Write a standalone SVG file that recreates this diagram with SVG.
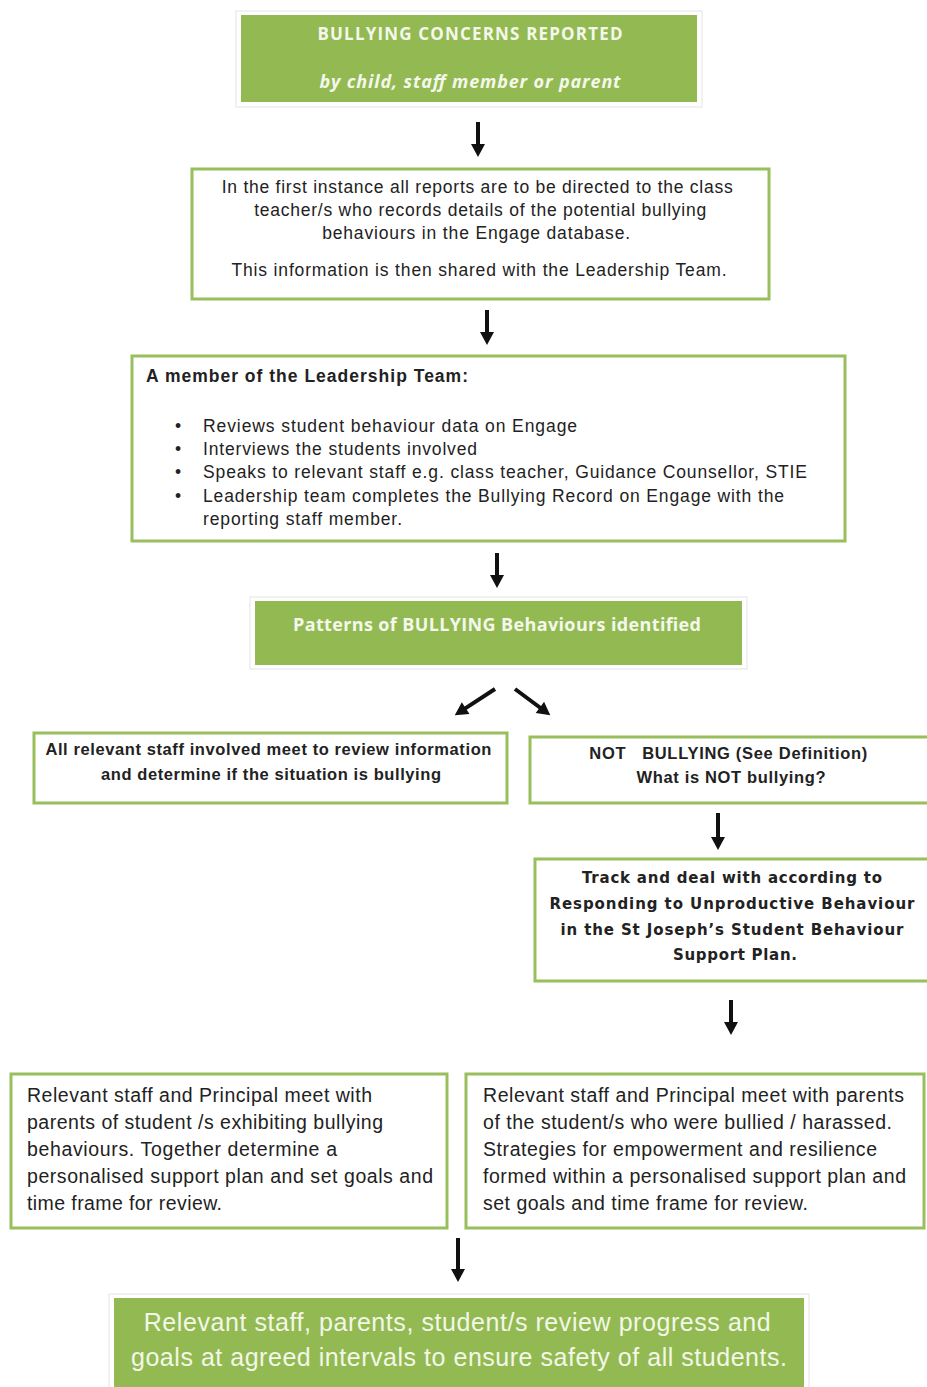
<svg xmlns="http://www.w3.org/2000/svg" width="927" height="1387" viewBox="0 0 927 1387">
<defs>
<style>
.gbox{fill:#93ba52;}
.frame{fill:#ffffff;stroke:#e3e3e3;stroke-width:1;}
.wbox{fill:#ffffff;stroke:#98bf5c;stroke-width:3;}
.t{font-family:"Liberation Sans",Arial,sans-serif;fill:#222;}
.tw{font-family:"Open Sans","Liberation Sans",sans-serif;fill:#f4f8ec;font-weight:bold;}
.arr{fill:#111;}
</style>
</defs>
<rect width="927" height="1387" fill="#ffffff"/>

<g id="connectors" class="arr">
<path d="M476,122 H480 V144 H485 L478,157 L471,144 H476 Z"/>
<path d="M485,310 H489 V332 H494 L487,345 L480,332 H485 Z"/>
<path d="M495,553 H499 V575 H504 L497,588 L490,575 H495 Z"/>
<path d="M716,813 H720 V837 H725 L718,850 L711,837 H716 Z"/>
<path d="M729,1000 H733 V1022 H738 L731,1035 L724,1022 H729 Z"/>
<path d="M456,1238 H460 V1269 H465 L458,1282 L451,1269 H456 Z"/>
<path transform="translate(495,689) rotate(57)" d="M-2,0 H2 V35 H7 L0,48 L-7,35 H-2 Z"/>
<path transform="translate(515,689) rotate(-53.4)" d="M-2,0 H2 V31 H7 L0,44 L-7,31 H-2 Z"/>
</g>

<g id="n1">
<rect class="frame" x="236" y="11" width="466" height="96"/>
<rect class="gbox" x="241" y="15" width="456" height="87"/>
<text class="tw" x="470" y="40" text-anchor="middle" font-size="17" textLength="305">BULLYING CONCERNS REPORTED</text>
<text class="tw" x="470" y="88" text-anchor="middle" font-size="18" font-style="italic" textLength="301">by child, staff member or parent</text>
</g>

<g id="n2">
<rect class="wbox" x="192" y="169" width="577" height="130"/>
<text class="t" font-size="17.5" text-anchor="middle">
<tspan x="480" y="193" textLength="511">In the first instance all reports are to be directed to the class</tspan>
<tspan x="483" y="216" textLength="452">teacher/s who records details of the potential bullying</tspan>
<tspan x="479" y="239" textLength="308">behaviours in the Engage database.</tspan>
<tspan x="479" y="276" textLength="495">This information is then shared with the Leadership Team.</tspan>
</text>
</g>

<g id="n3">
<rect class="wbox" x="132" y="356" width="713" height="185"/>
<text class="t" x="146" y="382" font-size="17.5" font-weight="bold" textLength="322">A member of the Leadership Team:</text>
<g class="t" font-size="17.5">
<text x="175" y="432">•</text>
<text x="175" y="455">•</text>
<text x="175" y="478">•</text>
<text x="175" y="502">•</text>
<text x="203" y="432" textLength="374">Reviews student behaviour data on Engage</text>
<text x="203" y="455" textLength="274">Interviews the students involved</text>
<text x="203" y="478" textLength="604">Speaks to relevant staff e.g. class teacher, Guidance Counsellor, STIE</text>
<text x="203" y="502" textLength="581">Leadership team completes the Bullying Record on Engage with the</text>
<text x="203" y="525" textLength="199">reporting staff member.</text>
</g>
</g>

<g id="n4">
<rect class="frame" x="250" y="597" width="497" height="72"/>
<rect class="gbox" x="255" y="601" width="487" height="64"/>
<text class="tw" x="497" y="631" text-anchor="middle" font-size="18" textLength="408">Patterns of BULLYING Behaviours identified</text>
</g>

<g id="n5">
<rect class="wbox" x="34" y="733" width="473" height="70"/>
<text class="t" font-size="16.5" font-weight="bold" text-anchor="middle">
<tspan x="271" y="755" textLength="446">All relevant staff involved meet to review information</tspan>
<tspan x="271" y="780" textLength="340">and determine if the situation is bullying</tspan>
</text>
</g>

<g id="n6">
<rect class="wbox" x="530" y="737" width="400" height="66"/>
<text class="t" font-size="16.5" font-weight="bold" text-anchor="middle">
<tspan x="731" y="759" xml:space="preserve" textLength="278">NOT   BULLYING (See Definition)</tspan>
<tspan x="731" y="783" textLength="189">What is NOT bullying?</tspan>
</text>
</g>

<g id="n7">
<rect class="wbox" x="535" y="859" width="395" height="122"/>
<text font-family="'DejaVu Sans',Verdana,sans-serif" fill="#222" font-size="15" font-weight="bold" text-anchor="middle">
<tspan x="735" y="883" textLength="300">Track and deal with according to</tspan>
<tspan x="735" y="909" textLength="365">Responding to Unproductive Behaviour</tspan>
<tspan x="735" y="935" textLength="343">in the St Joseph’s Student Behaviour</tspan>
<tspan x="735" y="960" textLength="124">Support Plan.</tspan>
</text>
</g>

<g id="n8">
<rect class="wbox" x="11" y="1074" width="436" height="154"/>
<text class="t" font-size="19.5">
<tspan x="27" y="1102" textLength="345">Relevant staff and Principal meet with</tspan>
<tspan x="27" y="1129" textLength="356">parents of student /s exhibiting bullying</tspan>
<tspan x="27" y="1156" textLength="310">behaviours. Together determine a</tspan>
<tspan x="27" y="1183" textLength="406">personalised support plan and set goals and</tspan>
<tspan x="27" y="1210" textLength="195">time frame for review.</tspan>
</text>
</g>

<g id="n9">
<rect class="wbox" x="466" y="1074" width="458" height="154"/>
<text class="t" font-size="19.5">
<tspan x="483" y="1102" textLength="421">Relevant staff and Principal meet with parents</tspan>
<tspan x="483" y="1129" textLength="409">of the student/s who were bullied / harassed.</tspan>
<tspan x="483" y="1156" textLength="394">Strategies for empowerment and resilience</tspan>
<tspan x="483" y="1183" textLength="423">formed within a personalised support plan and</tspan>
<tspan x="483" y="1210" textLength="325">set goals and time frame for review.</tspan>
</text>
</g>

<g id="n10">
<rect class="frame" x="109" y="1294" width="700" height="100"/>
<rect class="gbox" x="114" y="1298" width="690" height="95"/>
<text font-family="'Liberation Sans',Arial,sans-serif" fill="#f2f7e8" font-size="25" text-anchor="middle">
<tspan x="461" y="1331" textLength="627">Relevant staff, parents, student/s review progress and</tspan>
<tspan x="459" y="1366" textLength="656">goals at agreed intervals to ensure safety of all students.</tspan>
</text>
</g>
</svg>
